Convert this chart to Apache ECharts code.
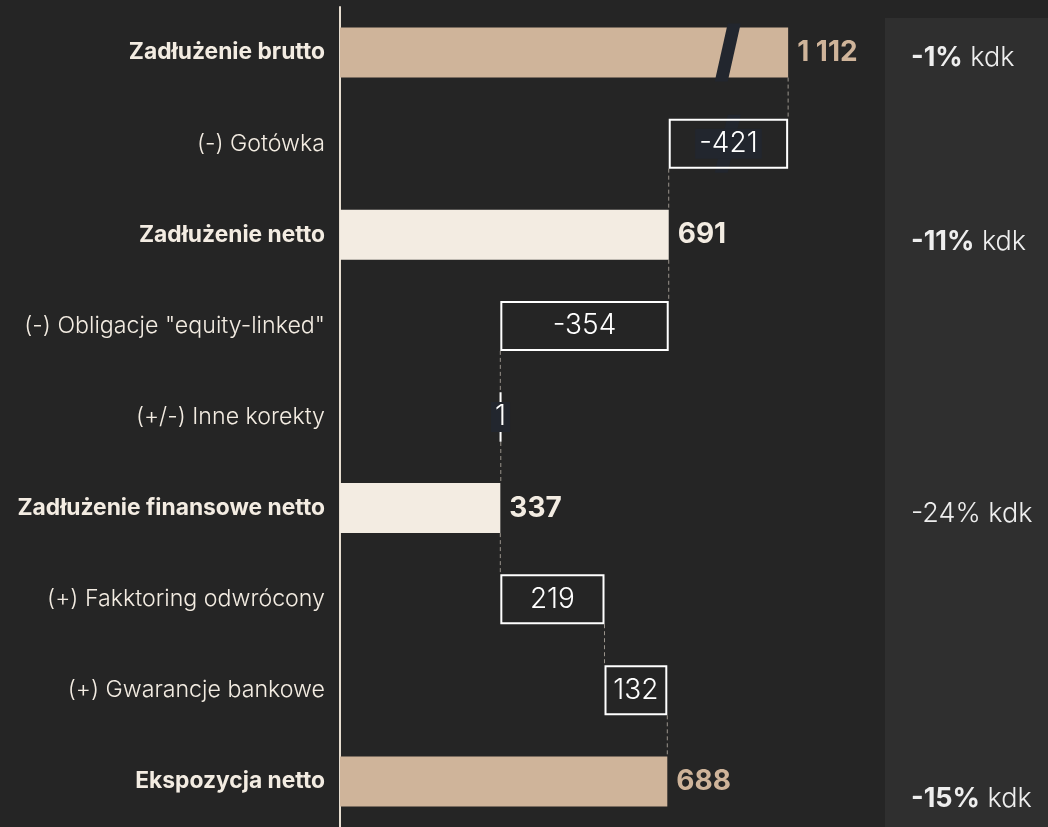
<!DOCTYPE html>
<html>
<head>
<meta charset="utf-8">
<title>Zadłużenie – mostek</title>
<style>
  html, body { margin: 0; padding: 0; background: #252525; }
  #main { width: 1048px; height: 827px; }
</style>
</head>
<body>
<div id="main"></div>
<script src="https://cdn.jsdelivr.net/npm/echarts@6/dist/echarts.min.js"></script>
<script type="text/javascript">
    // dane
    var categories = [
        'Zadłużenie brutto',
        '(-) Gotówka',
        'Zadłużenie netto',
        '(-) Obligacje "equity-linked"',
        '(+/-) Inne korekty',
        'Zadłużenie finansowe netto',
        '(+) Fakktoring odwrócony',
        '(+) Gwarancje bankowe',
        'Ekspozycja netto'
    ];
    var kinds = ['total', 'delta', 'total', 'delta', 'delta', 'total', 'delta', 'delta', 'total'];
    var values = [1112, -421, 691, -354, 1, 337, 219, 132, 688];
    var totalColors = ['#cfb49a', null, '#f3ece2', null, null, '#f3ece2', null, null, '#cfb49a'];
    var axisBreak = [815, 985];
    var brokenRows = [0, 1];
    var notesBold = ['-1%', '-11%', '', '-15%'];
    var notesRegular = [' kdk', ' kdk', '-24% kdk', ' kdk'];

    var FONT = 'Inter';
    var TXT = '#f3ece2';
    var BAR_W = 50;

    function fmt(v) {
        return String(v).replace(/\B(?=(\d{3})+(?!\d))/g, ' ');
    }

    // mostek: podstawa (niewidoczna) + sumy + zmiany
    var baseData = [], totalData = [], deltaData = [], levels = [];
    var level = 0;
    values.forEach(function (v, i) {
        if (kinds[i] === 'total') {
            level = v;
            baseData.push(0);
            totalData.push({
                value: v,
                itemStyle: {color: totalColors[i]},
                label: {color: totalColors[i]}
            });
            deltaData.push('-');
        } else {
            var prev = level;
            level = prev + v;
            baseData.push(Math.min(prev, level));
            totalData.push('-');
            var lbl = {};
            if (i === 1 || i === 4) {
                lbl = {backgroundColor: '#22262e', padding: [1, 4]};
            }
            deltaData.push({value: Math.abs(v), label: lbl});
        }
        levels.push(level);
    });

    var connectorData = [];
    for (var i = 0; i < values.length - 1; i++) {
        connectorData.push([levels[i], i]);
    }
    var slashData = brokenRows.map(function (r) { return [axisBreak[0], r]; });

    var myChart = echarts.init(document.getElementById('main'));

    var graphics = [{
        type: 'rect',
        left: 885, top: 18,
        shape: {width: 163, height: 809},
        style: {fill: '#2f2f2f'},
        z: -10
    }];
    var noteY = [60, 244, 516, 801];
    notesBold.forEach(function (b, k) {
        graphics.push({
            type: 'text',
            left: 911,
            top: noteY[k] - 16,
            style: {
                text: (b ? '{b|' + b + '}' : '') + '{r|' + notesRegular[k] + '}',
                rich: {
                    b: {fontFamily: FONT, fontSize: 27, fontWeight: 700, fill: '#eeeeee'},
                    r: {fontFamily: FONT, fontSize: 27, fontWeight: 300, fill: '#eeeeee'}
                }
            }
        });
    });

    myChart.setOption({
        backgroundColor: '#252525',
        animation: false,
        textStyle: {fontFamily: FONT},
        grid: {left: 340, right: 218, top: 7, height: 822, containLabel: false},
        xAxis: {
            type: 'value',
            min: 0,
            max: 1200,
            breaks: [{start: axisBreak[0], end: axisBreak[1], gap: 0}],
            breakArea: {show: false, expandOnClick: false},
            axisLine: {show: false},
            axisTick: {show: false},
            axisLabel: {show: false},
            splitLine: {show: false}
        },
        yAxis: {
            type: 'category',
            inverse: true,
            data: categories,
            axisLine: {show: true, lineStyle: {color: '#e6ddd0', width: 2}},
            axisTick: {show: false},
            axisLabel: {
                margin: 15,
                formatter: function (val, idx) {
                    return (kinds[idx] === 'total' ? '{b|' : '{r|') + val + '}';
                },
                rich: {
                    b: {fontFamily: FONT, fontSize: 22.8, fontWeight: 700, color: TXT},
                    r: {fontFamily: FONT, fontSize: 23.2, fontWeight: 300, color: TXT}
                }
            }
        },
        graphic: graphics,
        series: [
            {
                name: 'base',
                type: 'bar',
                stack: 'w',
                barWidth: BAR_W,
                silent: true,
                itemStyle: {color: 'rgba(0,0,0,0)'},
                data: baseData,
                z: 1
            },
            {
                name: 'suma',
                type: 'bar',
                stack: 'w',
                barWidth: BAR_W,
                data: totalData,
                z: 1,
                label: {
                    show: true,
                    position: 'right',
                    distance: 9,
                    fontFamily: FONT,
                    fontSize: 28,
                    fontWeight: 700,
                    formatter: function (p) { return fmt(p.value); }
                }
            },
            {
                name: 'zmiana',
                type: 'bar',
                stack: 'w',
                barWidth: BAR_W,
                data: deltaData,
                z: 4,
                itemStyle: {color: 'rgba(0,0,0,0)', borderColor: '#ffffff', borderWidth: 2},
                label: {
                    show: true,
                    position: 'inside',
                    color: '#ffffff',
                    fontFamily: FONT,
                    fontSize: 28,
                    fontWeight: 300,
                    formatter: function (p) { return fmt(values[p.dataIndex]); }
                }
            },
            {
                name: 'laczniki',
                type: 'custom',
                silent: true,
                z: 0,
                data: connectorData,
                renderItem: function (params, api) {
                    var p = api.coord([api.value(0), api.value(1)]);
                    var band = api.size([0, 1])[1];
                    return {
                        type: 'line',
                        shape: {x1: p[0], y1: p[1] + BAR_W / 2, x2: p[0], y2: p[1] + band - BAR_W / 2},
                        style: {stroke: '#9a948c', lineWidth: 1, lineDash: [4, 3]}
                    };
                }
            },
            {
                name: 'przerwa',
                type: 'custom',
                silent: true,
                z: 3,
                data: slashData,
                renderItem: function (params, api) {
                    var p = api.coord([api.value(0), api.value(1)]);
                    var h = 29;
                    return {
                        type: 'polygon',
                        shape: {points: [[p[0], p[1] - h], [p[0] + 13, p[1] - h], [p[0], p[1] + h], [p[0] - 13, p[1] + h]]},
                        style: {fill: '#22262e'}
                    };
                }
            }
        ]
    });
</script>
</body>
</html>
